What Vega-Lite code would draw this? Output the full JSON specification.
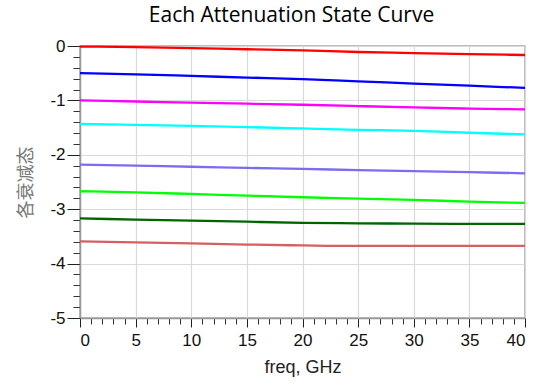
{
  "$schema": "https://vega.github.io/schema/vega-lite/v6.json",
  "width": 445,
  "height": 272,
  "autosize": {"type": "none"},
  "padding": {"left": 80, "top": 46, "right": 16, "bottom": 72},
  "background": "white",
  "title": {"text": "Each Attenuation State Curve", "font": "Open Sans", "fontSize": 21, "fontWeight": "normal", "color": "#000000", "anchor": "middle", "dx": -11, "offset": 11},
  "config": {
    "view": {"stroke": "#a8a8a8", "strokeWidth": 1.5},
    "axis": {"labelFont": "Liberation Sans", "titleFont": "Liberation Sans"}
  },
  "data": {"values": [
    {"f": 0, "v": -0.01, "s": "state0"}, {"f": 5, "v": -0.02, "s": "state0"}, {"f": 10, "v": -0.04, "s": "state0"}, {"f": 15, "v": -0.06, "s": "state0"}, {"f": 20, "v": -0.08, "s": "state0"}, {"f": 25, "v": -0.11, "s": "state0"}, {"f": 30, "v": -0.13, "s": "state0"}, {"f": 35, "v": -0.15, "s": "state0"}, {"f": 40, "v": -0.165, "s": "state0"},
    {"f": 0, "v": -0.5, "s": "state1"}, {"f": 5, "v": -0.52, "s": "state1"}, {"f": 10, "v": -0.55, "s": "state1"}, {"f": 15, "v": -0.58, "s": "state1"}, {"f": 20, "v": -0.61, "s": "state1"}, {"f": 25, "v": -0.65, "s": "state1"}, {"f": 30, "v": -0.69, "s": "state1"}, {"f": 35, "v": -0.73, "s": "state1"}, {"f": 40, "v": -0.77, "s": "state1"},
    {"f": 0, "v": -1.0, "s": "state2"}, {"f": 5, "v": -1.02, "s": "state2"}, {"f": 10, "v": -1.04, "s": "state2"}, {"f": 15, "v": -1.06, "s": "state2"}, {"f": 20, "v": -1.08, "s": "state2"}, {"f": 25, "v": -1.105, "s": "state2"}, {"f": 30, "v": -1.13, "s": "state2"}, {"f": 35, "v": -1.15, "s": "state2"}, {"f": 40, "v": -1.165, "s": "state2"},
    {"f": 0, "v": -1.43, "s": "state3"}, {"f": 5, "v": -1.45, "s": "state3"}, {"f": 10, "v": -1.47, "s": "state3"}, {"f": 15, "v": -1.49, "s": "state3"}, {"f": 20, "v": -1.515, "s": "state3"}, {"f": 25, "v": -1.54, "s": "state3"}, {"f": 30, "v": -1.56, "s": "state3"}, {"f": 35, "v": -1.595, "s": "state3"}, {"f": 40, "v": -1.625, "s": "state3"},
    {"f": 0, "v": -2.18, "s": "state4"}, {"f": 5, "v": -2.2, "s": "state4"}, {"f": 10, "v": -2.22, "s": "state4"}, {"f": 15, "v": -2.24, "s": "state4"}, {"f": 20, "v": -2.26, "s": "state4"}, {"f": 25, "v": -2.28, "s": "state4"}, {"f": 30, "v": -2.3, "s": "state4"}, {"f": 35, "v": -2.32, "s": "state4"}, {"f": 40, "v": -2.34, "s": "state4"},
    {"f": 0, "v": -2.67, "s": "state5"}, {"f": 5, "v": -2.69, "s": "state5"}, {"f": 10, "v": -2.72, "s": "state5"}, {"f": 15, "v": -2.75, "s": "state5"}, {"f": 20, "v": -2.78, "s": "state5"}, {"f": 25, "v": -2.805, "s": "state5"}, {"f": 30, "v": -2.83, "s": "state5"}, {"f": 35, "v": -2.86, "s": "state5"}, {"f": 40, "v": -2.885, "s": "state5"},
    {"f": 0, "v": -3.17, "s": "state6"}, {"f": 5, "v": -3.19, "s": "state6"}, {"f": 10, "v": -3.21, "s": "state6"}, {"f": 15, "v": -3.23, "s": "state6"}, {"f": 20, "v": -3.25, "s": "state6"}, {"f": 25, "v": -3.26, "s": "state6"}, {"f": 30, "v": -3.265, "s": "state6"}, {"f": 35, "v": -3.27, "s": "state6"}, {"f": 40, "v": -3.27, "s": "state6"},
    {"f": 0, "v": -3.59, "s": "state7"}, {"f": 5, "v": -3.61, "s": "state7"}, {"f": 10, "v": -3.63, "s": "state7"}, {"f": 15, "v": -3.65, "s": "state7"}, {"f": 20, "v": -3.665, "s": "state7"}, {"f": 25, "v": -3.675, "s": "state7"}, {"f": 30, "v": -3.675, "s": "state7"}, {"f": 35, "v": -3.675, "s": "state7"}, {"f": 40, "v": -3.675, "s": "state7"}
  ]},
  "layer": [
    {
      "mark": {"type": "line", "opacity": 0},
      "encoding": {
        "x": {"field": "f", "type": "quantitative", "scale": {"domain": [0, 40], "nice": false},
          "axis": {"orient": "bottom", "title": null, "values": [0,1,2,3,4,5,6,7,8,9,10,11,12,13,14,15,16,17,18,19,20,21,22,23,24,25,26,27,28,29,30,31,32,33,34,35,36,37,38,39,40], "labels": false, "grid": false, "domain": false, "tickSize": 6, "tickColor": "#333333", "tickWidth": 1}},
        "y": {"field": "v", "type": "quantitative", "scale": {"domain": [-5, 0], "nice": false},
          "axis": {"orient": "left", "title": null, "values": [-5,-4.8,-4.6,-4.4,-4.2,-4,-3.8,-3.6,-3.4,-3.2,-3,-2.8,-2.6,-2.4,-2.2,-2,-1.8,-1.6,-1.4,-1.2,-1,-0.8,-0.6,-0.4,-0.2,0], "labels": false, "grid": false, "domain": false, "tickSize": 7, "tickColor": "#333333", "tickWidth": 1}},
        "detail": {"field": "s"}
      }
    },
    {
      "mark": {"type": "line", "strokeWidth": 2.3, "interpolate": "monotone"},
      "encoding": {
        "x": {"field": "f", "type": "quantitative", "scale": {"domain": [0, 40], "nice": false},
          "axis": {"orient": "bottom", "title": "freq, GHz", "values": [0,5,10,15,20,25,30,35,40], "grid": true, "gridColor": "#d9d9d9", "gridWidth": 1.2, "domainColor": "#999999", "domainWidth": 1.5, "tickSize": 9, "tickColor": "#222222", "labelFontSize": 17, "labelColor": "#111111", "labelPadding": 5, "titleFontSize": 18, "titleFontWeight": "normal", "titleColor": "#222222", "titlePadding": 10, "labelExpr": "'' + datum.value"}},
        "y": {"field": "v", "type": "quantitative", "scale": {"domain": [-5, 0], "nice": false},
          "axis": {"orient": "left", "title": "各衰减态", "values": [-5,-4,-3,-2,-1,0], "grid": true, "gridColor": "#d9d9d9", "gridWidth": 1.2, "domainColor": "#999999", "domainWidth": 1.5, "tickSize": 13, "tickColor": "#222222", "labelFontSize": 17, "labelColor": "#111111", "labelPadding": 2, "titleFont": "Noto Sans CJK SC", "titleFontSize": 18, "titleFontWeight": "normal", "titleColor": "#777777", "titlePadding": 14, "labelExpr": "'' + datum.value"}},
        "color": {"field": "s", "type": "nominal", "legend": null,
          "scale": {"domain": ["state0","state1","state2","state3","state4","state5","state6","state7"],
                    "range": ["#ff0000","#0000ff","#ff00ff","#00ffff","#7b6cf0","#00ff00","#006400","#d46060"]}}
      }
    }
  ],
  "resolve": {"axis": {"x": "independent", "y": "independent"}}
}
